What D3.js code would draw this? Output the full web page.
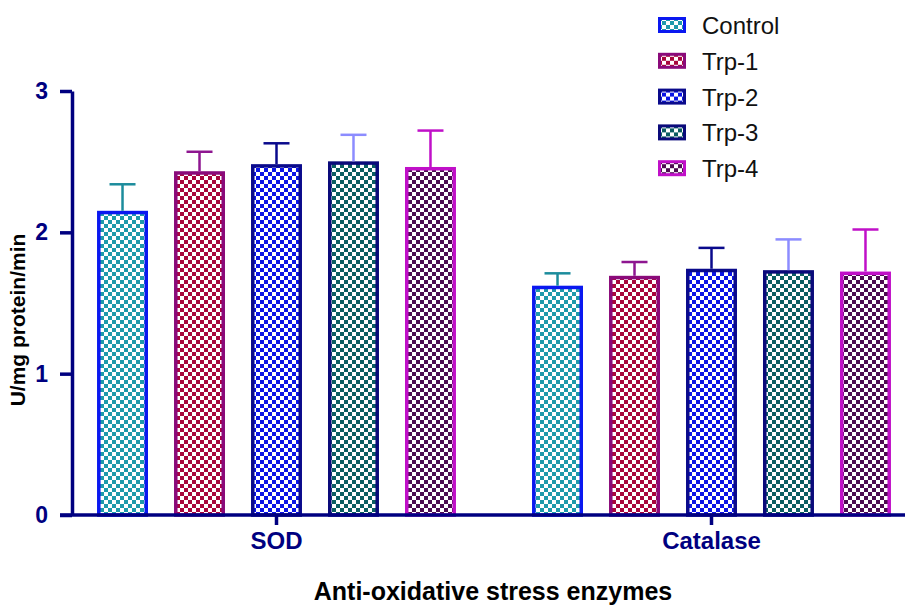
<!DOCTYPE html>
<html>
<head>
<meta charset="utf-8">
<script src="https://cdn.jsdelivr.net/npm/d3@7/dist/d3.min.js"></script>
<style>
  html, body { margin: 0; padding: 0; background: #fff; }
  svg { display: block; font-family: "Liberation Sans", Arial, sans-serif; }
</style>
</head>
<body>
<div id="chart"></div>
<script>
// data
const categories = ["SOD", "Catalase"];
const series = ["Control", "Trp-1", "Trp-2", "Trp-3", "Trp-4"];
const meanSOD = [2.14, 2.42, 2.47, 2.49, 2.45];
const errSOD = [0.20, 0.15, 0.16, 0.20, 0.27];
const meanCatalase = [1.61, 1.68, 1.73, 1.72, 1.71];
const errCatalase = [0.10, 0.11, 0.16, 0.23, 0.31];
const yTicks = [0, 1, 2, 3];

// look of each series: border, checker colour, error bar colour
const borderColors = ["#0a18f0", "#8a0a7a", "#0a0a8c", "#0a0a7a", "#c010c8"];
const checkColors = ["#1e9aab", "#a8063c", "#0a14e6", "#0b5e62", "#4c0c50"];
const errColors = ["#1c8c9c", "#8e1690", "#0a0a8c", "#8c8cff", "#c010c8"];

const width = 909, height = 607;
const margin = { top: 91, right: 4, bottom: 92, left: 72 };
const navy = "#000080";

const rows = [];
categories.forEach((cat, ci) => {
    const means = ci === 0 ? meanSOD : meanCatalase;
    const errs = ci === 0 ? errSOD : errCatalase;
    series.forEach((s, si) => {
        rows.push({ cat: cat, series: s, idx: si, value: means[si], err: errs[si] });
    });
});

const svg = d3.select("#chart").append("svg")
    .attr("width", width)
    .attr("height", height);

// checker patterns
const defs = svg.append("defs");
series.forEach((s, i) => {
    const p = defs.append("pattern")
        .attr("id", "chk" + i)
        .attr("patternUnits", "userSpaceOnUse")
        .attr("width", 8)
        .attr("height", 8);
    p.append("rect").attr("width", 8).attr("height", 8).attr("fill", "#fff");
    p.append("rect").attr("width", 4).attr("height", 4).attr("fill", checkColors[i]);
    p.append("rect").attr("x", 4).attr("y", 4).attr("width", 4).attr("height", 4).attr("fill", checkColors[i]);
});

const y = d3.scaleLinear()
    .domain([0, 3])
    .range([height - margin.bottom, margin.top]);

const x0 = d3.scaleBand()
    .domain(categories)
    .range([59, 929])
    .paddingInner(0);

const x1 = d3.scaleBand()
    .domain(series)
    .range([0, x0.bandwidth()])
    .paddingInner(0.338)
    .paddingOuter(0.494);

const sw = 3.5;

// bars
const bars = svg.append("g").attr("class", "bars");
bars.selectAll("rect")
    .data(rows)
    .join("rect")
    .attr("x", d => x0(d.cat) + x1(d.series) + sw / 2)
    .attr("y", d => y(d.value))
    .attr("width", x1.bandwidth() - sw)
    .attr("height", d => y(0) - y(d.value))
    .attr("fill", d => "url(#chk" + d.idx + ")")
    .attr("stroke", d => borderColors[d.idx])
    .attr("stroke-width", sw);

// error bars (upper only)
const errG = svg.append("g").attr("class", "errors");
rows.forEach(d => {
    const cx = x0(d.cat) + x1(d.series) + x1.bandwidth() / 2;
    const top = y(d.value + d.err);
    errG.append("line")
        .attr("x1", cx).attr("x2", cx)
        .attr("y1", y(d.value) - sw / 2).attr("y2", top)
        .attr("stroke", errColors[d.idx]).attr("stroke-width", 2.5);
    errG.append("line")
        .attr("x1", cx - 13).attr("x2", cx + 13)
        .attr("y1", top).attr("y2", top)
        .attr("stroke", errColors[d.idx]).attr("stroke-width", 2.5);
});

// y axis
const yAxis = svg.append("g")
    .attr("transform", `translate(${margin.left},0)`)
    .call(d3.axisLeft(y).tickValues(yTicks).tickFormat(d3.format("d")).tickSize(12).tickSizeOuter(0).tickPadding(12));
yAxis.select(".domain").attr("stroke", navy).attr("stroke-width", 3.5);
yAxis.selectAll(".tick line").attr("stroke", navy).attr("stroke-width", 3.5);
yAxis.selectAll(".tick text")
    .attr("fill", navy)
    .style("font-size", "23px")
    .style("font-weight", "bold")
    .style("font-family", "Liberation Sans, Arial, sans-serif");

// x axis
const xAxis = svg.append("g")
    .attr("transform", `translate(0,${y(0)})`)
    .call(d3.axisBottom(x0).tickSize(10).tickSizeOuter(0).tickPadding(7));
xAxis.select(".domain").attr("d", `M60,0H905`).attr("stroke", navy).attr("stroke-width", 3.5);
xAxis.selectAll(".tick line").attr("stroke", navy).attr("stroke-width", 3.5);
xAxis.selectAll(".tick text")
    .attr("fill", navy)
    .style("font-size", "24px")
    .style("font-weight", "bold")
    .style("font-family", "Liberation Sans, Arial, sans-serif");

// axis titles
svg.append("text")
    .attr("transform", "translate(25,320) rotate(-90)")
    .attr("text-anchor", "middle")
    .style("font-size", "21px")
    .style("font-weight", "bold")
    .text("U/mg protein/min");

svg.append("text")
    .attr("x", 493)
    .attr("y", 600)
    .attr("text-anchor", "middle")
    .style("font-size", "25px")
    .style("font-weight", "bold")
    .text("Anti-oxidative stress enzymes");

// legend
const legend = svg.append("g").attr("transform", "translate(658,17)");
series.forEach((s, i) => {
    const g = legend.append("g").attr("transform", `translate(0,${i * 35.8})`);
    g.append("rect")
        .attr("x", 1.5).attr("y", 1.5)
        .attr("width", 25).attr("height", 13)
        .attr("fill", "url(#chk" + i + ")")
        .attr("stroke", borderColors[i])
        .attr("stroke-width", 3);
    g.append("text")
        .attr("x", 44)
        .attr("y", 17)
        .style("font-size", "24px")
        .attr("fill", "#111")
        .text(s);
});
</script>
</body>
</html>
